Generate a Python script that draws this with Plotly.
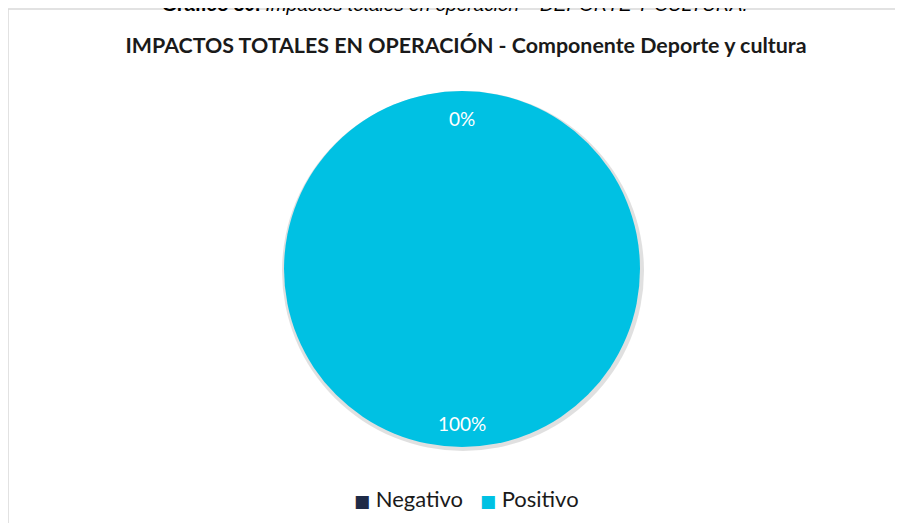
import plotly.graph_objects as go

labels = ['Negativo', 'Positivo']
values = [0, 100]
colors = ['#1F2B47', '#00C1E3']

total = sum(values)
pcts = ['{:.0f}%'.format(100 * v / total) for v in values]

OFF = 8  # the page puts the figure 8px in from the corner
W, H = 903 - 2 * OFF, 531 - 2 * OFF


def px(x):
    return (x - OFF) / W


def py(y):
    return 1 - (y - OFF) / H


fig = go.Figure()

fig.add_trace(go.Pie(
    labels=labels,
    values=values,
    marker=dict(colors=colors, line=dict(width=0)),
    textinfo='none',
    sort=False,
    direction='clockwise',
    hoverinfo='label+percent',
    domain=dict(x=[px(284), px(640)], y=[py(447), py(91)]),
    showlegend=False,
))

# labels for slices (0% sits at top, 100% at bottom in the original)
for txt, ypos in zip(pcts, [118, 423]):
    fig.add_annotation(x=px(462), y=py(ypos), xref='paper', yref='paper',
                       xanchor='center', yanchor='middle',
                       text=txt, showarrow=False,
                       font=dict(family='Lato', size=19, color='white'))

# legend, drawn as text so the squares sit close to the names
sq = '<span style="font-family:DejaVu Sans;font-size:17px;color:{}">■</span>'
legend_txt = '   '.join(sq.format(c) + ' ' + l for c, l in zip(colors, labels))
fig.add_annotation(x=px(466), y=py(498), xref='paper', yref='paper',
                   xanchor='center', yanchor='middle',
                   text=legend_txt, showarrow=False,
                   font=dict(family='Lato', size=22, color='#1a1a1a'))

# caption of the document, cut by the top of the picture
fig.add_annotation(x=px(455), y=py(4), xref='paper', yref='paper',
                   xanchor='center', yanchor='middle',
                   text='<b>Gráfico 30.</b> <i>Impactos totales en operación – DEPORTE Y CULTURA.</i>',
                   showarrow=False,
                   font=dict(family='Liberation Sans', size=19, color='black'))

# chart border (left and top only are in view)
fig.add_shape(type='line', xref='paper', yref='paper',
              x0=px(8), x1=px(8), y0=-0.1, y1=py(9),
              line=dict(color='#D9D9D9', width=1.5), layer='below')
fig.add_shape(type='line', xref='paper', yref='paper',
              x0=px(8), x1=1.2, y0=py(9), y1=py(9),
              line=dict(color='#D9D9D9', width=1.5), layer='below')

# soft shadow of the pie
fig.add_shape(type='circle', xref='paper', yref='paper',
              x0=px(282), x1=px(644), y0=py(451), y1=py(91),
              fillcolor='rgba(0,0,0,0.12)', line=dict(width=0), layer='below')

fig.update_layout(
    width=W, height=H,
    margin=dict(l=0, r=0, t=0, b=0),
    paper_bgcolor='white',
    plot_bgcolor='white',
    title=dict(text='<b>IMPACTOS TOTALES EN OPERACIÓN - Componente Deporte y cultura</b>',
               x=px(466), xanchor='center', y=py(46), yanchor='middle',
               font=dict(family='Lato', size=21.4, color='#1a1a1a')),
)

fig.write_html('out.html', post_script="document.documentElement.style.overflow='hidden';")
